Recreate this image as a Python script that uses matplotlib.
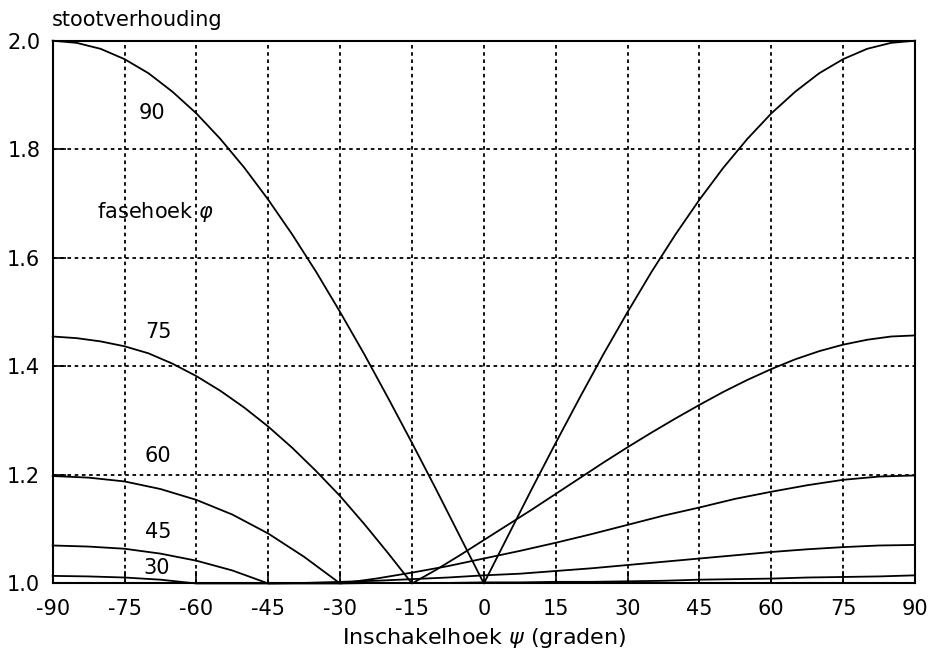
import matplotlib
matplotlib.use("Agg")
import matplotlib.pyplot as plt

plt.rcParams['font.family'] = ['DejaVu Sans']
plt.rcParams['axes.unicode_minus'] = False

# inschakelhoek psi (graden): fine grid for the steep curves, coarser for the flat ones
psi_fine = [-90, -85, -80, -75, -70, -65, -60, -55, -50, -45, -40, -35, -30, -25, -20, -15, -10, -5,
            0, 5, 10, 15, 20, 25, 30, 35, 40, 45, 50, 55, 60, 65, 70, 75, 80, 85, 90]
psi = [-90, -82.5, -75, -67.5, -60, -52.5, -45, -37.5, -30, -22.5, -15, -7.5,
       0, 7.5, 15, 22.5, 30, 37.5, 45, 52.5, 60, 67.5, 75, 82.5, 90]

# stootverhouding per fasehoek phi
r90 = [2.000, 1.996, 1.985, 1.966, 1.940, 1.906, 1.866, 1.819, 1.766, 1.707, 1.643, 1.574, 1.500,
       1.423, 1.342, 1.259, 1.174, 1.087, 1.000, 1.087, 1.174, 1.259, 1.342, 1.423, 1.500, 1.574,
       1.643, 1.707, 1.766, 1.819, 1.866, 1.906, 1.940, 1.966, 1.985, 1.996, 2.000]
r75 = [1.455, 1.452, 1.446, 1.437, 1.424, 1.405, 1.382, 1.355, 1.324, 1.289, 1.250, 1.207, 1.161,
       1.110, 1.056, 1.000, 1.025, 1.052, 1.080, 1.108, 1.136, 1.165, 1.194, 1.223, 1.251, 1.278,
       1.304, 1.329, 1.353, 1.375, 1.395, 1.413, 1.428, 1.440, 1.449, 1.455, 1.457]
r60 = [1.198, 1.195, 1.188, 1.174, 1.154, 1.127, 1.092, 1.049, 1.000, 1.009, 1.020, 1.032,
       1.046, 1.060, 1.075, 1.091, 1.108, 1.125, 1.140, 1.156, 1.169, 1.181, 1.191, 1.197, 1.199]
r45 = [1.070, 1.068, 1.064, 1.055, 1.042, 1.024, 1.000, 1.001, 1.003, 1.005, 1.008, 1.011,
       1.015, 1.018, 1.023, 1.028, 1.034, 1.040, 1.046, 1.052, 1.058, 1.063, 1.067, 1.070, 1.071]
r30 = [1.014, 1.013, 1.011, 1.007, 1.000, 1.000, 1.000, 1.000, 1.000, 1.001, 1.001, 1.001,
       1.002, 1.002, 1.003, 1.003, 1.004, 1.005, 1.007, 1.008, 1.009, 1.011, 1.012, 1.013, 1.015]

curves = [(psi_fine, r90), (psi_fine, r75), (psi, r60), (psi, r45), (psi, r30)]
curve_labels = ['90', '75', '60', '45', '30']
label_pos = [(-69.2, 1.866), (-68.0, 1.463), (-68.0, 1.235), (-68.0, 1.095), (-68.4, 1.029)]

x_ticks = list(range(-90, 91, 15))
y_ticks = [1.0, 1.2, 1.4, 1.6, 1.8, 2.0]

fig = plt.figure(figsize=(9.31, 6.66), dpi=100)
ax = fig.add_axes([0.0566, 0.1239, 0.9262, 0.8150])

for xs, r in curves:
    ax.plot(xs, r, color='black', linewidth=1.3, clip_on=False, zorder=3)

for txt, (x, y) in zip(curve_labels, label_pos):
    ax.text(x, y, txt, fontsize=15, ha='center', va='center')
ax.text(-80.7, 1.684, r'fasehoek $\varphi$', fontsize=15, ha='left', va='center')

ax.set_xlim(-90, 90)
ax.set_ylim(1.0, 2.0)
ax.set_xticks(x_ticks)
ax.set_xticklabels([str(t) for t in x_ticks])
ax.set_yticks(y_ticks)
ax.set_yticklabels(['%.1f' % t for t in y_ticks])
ax.tick_params(direction='in', length=9, width=1.2, labelsize=15)
ax.tick_params(axis='x', pad=11)
ax.tick_params(axis='y', pad=9)

ax.grid(True, color='black', linestyle=(0, (2.0, 2.0)), linewidth=1.3)
for s in ax.spines.values():
    s.set_linewidth(1.5)

fig.text(52 / 931, 1 - 26 / 666, 'stootverhouding', fontsize=15, ha='left', va='baseline')
ax.set_xlabel(r'Inschakelhoek $\psi$ (graden)', fontsize=16, labelpad=5)

fig.savefig('out.png', dpi=100)
